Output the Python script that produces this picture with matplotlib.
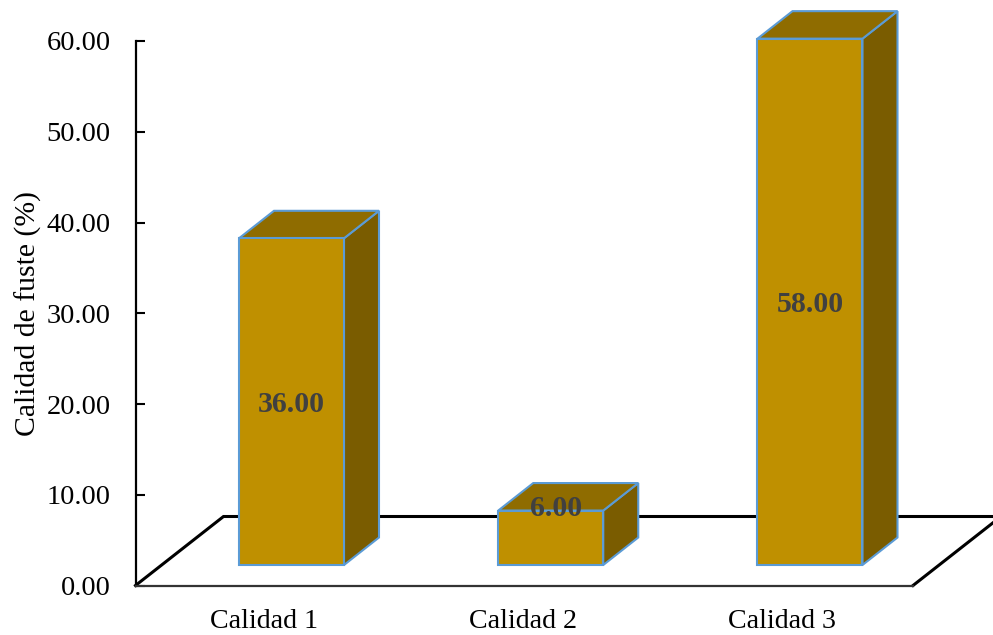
import matplotlib
matplotlib.use("Agg")
import matplotlib.pyplot as plt
import numpy as np

plt.rcParams["font.family"] = ["Liberation Serif", "DejaVu Serif"]

categories = ["Calidad 1", "Calidad 2", "Calidad 3"]
values = [36.00, 6.00, 58.00]
y_ticks = [0, 10, 20, 30, 40, 50, 60]

FRONT = "#BF9000"
TOP = "#8F6C00"
SIDE = "#7A5C00"
EDGE = "#5B9BD5"

# axes box in pixels of the 993x635 figure
W, H = 993, 635
left, right, bottom, top = 135.5, 993, 585.5, 41
x_unit = 259.25  # pixels per category
y_unit = (bottom - top) / 60  # pixels per percent

fig = plt.figure(figsize=(W / 100, H / 100), dpi=100)
ax = fig.add_axes([left / W, 1 - bottom / H, (right - left) / W, (bottom - top) / H])

x_pos = np.arange(len(categories))
x0 = -(291.5 - left) / x_unit
ax.set_xlim(x0, x0 + (right - left) / x_unit)
ax.set_ylim(0, 60)

# fake 3d offsets, in data units
base = 20.5 / y_unit
bar_w = 105 / x_unit
dx = 35 / x_unit
dy = 27.5 / y_unit
floor_dx = 88 / x_unit
floor_dy = 69 / y_unit

# floor of the chart
fx0, fx1 = x0, x0 + (913 - left) / x_unit
ax.plot([fx0, fx0 + floor_dx, fx1 + floor_dx, fx1], [0, floor_dy, floor_dy, 0],
        color="black", lw=2.2, clip_on=False, zorder=1, solid_joinstyle="miter")

# boxes: side and top faces first, the front face over them
for x, v in zip(x_pos, values):
    l, r = x - bar_w / 2, x + bar_w / 2
    b, t = base, base + v
    ax.fill([r, r + dx, r + dx, r], [b, b + dy, t + dy, t], facecolor=SIDE,
            edgecolor=EDGE, lw=1.5, clip_on=False, zorder=2)
    ax.fill([l, l + dx, r + dx, r], [t, t + dy, t + dy, t], facecolor=TOP,
            edgecolor=EDGE, lw=1.5, clip_on=False, zorder=2)
ax.bar(x_pos, values, width=bar_w, bottom=base, color=FRONT, edgecolor=EDGE,
       linewidth=1.5, clip_on=False, zorder=3)

# value labels, the small bar's one is lifted onto its top face
label_shift = [(0, -2.5), (5, 29), (0, -2.5)]
for x, v, s in zip(x_pos, values, label_shift):
    ax.annotate(f"{v:.2f}", (x, base + v / 2), xytext=(s[0] * 0.72, s[1] * 0.72),
                textcoords="offset points", ha="center", va="center",
                fontsize=21.5, fontweight="bold", color="#404040", zorder=4,
                annotation_clip=False)

for name in ["top", "right"]:
    ax.spines[name].set_visible(False)
ax.spines["left"].set_linewidth(1.6)
ax.spines["bottom"].set_linewidth(1.6)
ax.spines["bottom"].set_bounds(fx0, fx1)
ax.spines["bottom"].set_color("#333333")

ax.set_yticks(y_ticks)
ax.set_yticklabels([f"{t:.2f}" for t in y_ticks])
ax.tick_params(axis="y", direction="in", length=6.5, width=1.5, pad=18, labelsize=20.5)

# category names sit a bit left of their boxes
ax.set_xticks(x_pos - 28 / x_unit)
ax.set_xticklabels(categories)
ax.tick_params(axis="x", length=0, pad=17, labelsize=20.2)

ax.set_ylabel("Calidad de fuste (%)", fontsize=21.4, va="center")
ax.yaxis.set_label_coords((28 - left) / (right - left), 0.5)

fig.savefig("out.png", dpi=100)
